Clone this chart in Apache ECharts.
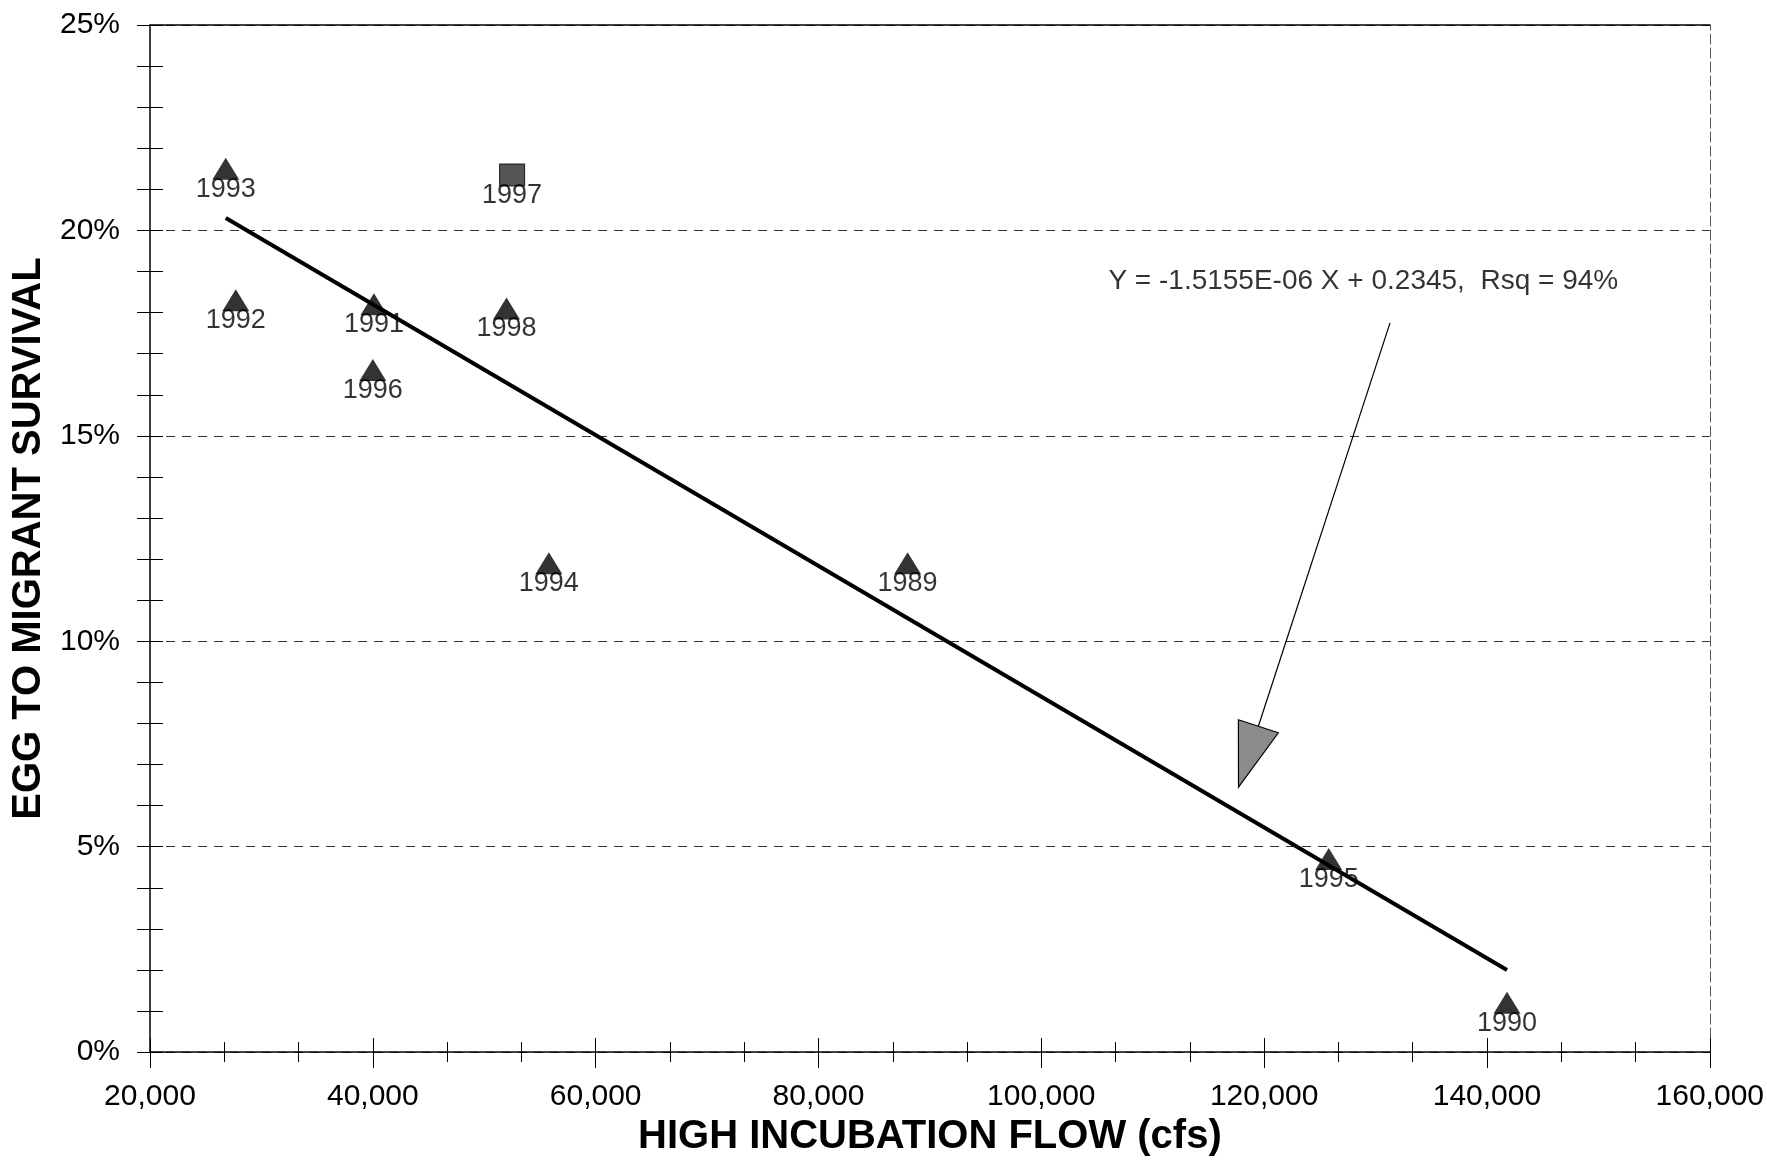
<!DOCTYPE html>
<html>
<head>
<meta charset="utf-8">
<script src="https://cdn.jsdelivr.net/npm/echarts@6/dist/echarts.min.js"></script>
<style>
html,body{margin:0;padding:0;background:#fff;}
#chart{width:1767px;height:1162px;}
</style>
</head>
<body>
<div id="chart"></div>
<script>
// ---- data ----
const years = ['1993', '1992', '1991', '1996', '1998', '1994', '1989', '1995', '1990'];
const flows = [26800, 27700, 40100, 40000, 52000, 55800, 88000, 125800, 141800];
const survival = [21.5, 18.3, 18.2, 16.6, 18.1, 11.9, 11.9, 4.7, 1.2];

const squareYears = ['1997'];
const squareFlows = [52500];
const squareSurvival = [21.35];

const trendX = [26800, 141800];
const trendY = [20.3, 2.0];

const equationText = 'Y = -1.5155E-06 X + 0.2345,  Rsq = 94%';
const equationPos = [128900, 18.76];
const arrowFrom = [131300, 17.75];
const arrowTo = [117700, 6.45];

const xTicks = [20000, 40000, 60000, 80000, 100000, 120000, 140000, 160000];
const yTicks = [0, 5, 10, 15, 20, 25];

const xName = 'HIGH INCUBATION FLOW (cfs)';
const yName = 'EGG TO MIGRANT SURVIVAL';

// ---- build ----
const FONT = '"Liberation Sans", Arial, sans-serif';
const tri = years.map((y, i) => ({ name: y, value: [flows[i], survival[i]] }));
const sq = squareYears.map((y, i) => ({ name: y, value: [squareFlows[i], squareSurvival[i]] }));
const trend = trendX.map((x, i) => [x, trendY[i]]);

const xMin = xTicks[0], xMax = xTicks[xTicks.length - 1];
const xInt = xTicks[1] - xTicks[0];
const yMin = yTicks[0], yMax = yTicks[yTicks.length - 1];
const yInt = yTicks[1] - yTicks[0];

const baseX = { type: 'value', min: xMin, max: xMax, interval: xInt };
const baseY = { type: 'value', min: yMin, max: yMax, interval: yInt };

const labelStyle = {
  show: true, position: 'bottom', distance: -4,
  formatter: p => p.name, color: '#000', fontSize: 27, fontFamily: FONT
};

const chart = echarts.init(document.getElementById('chart'), null, { renderer: 'canvas' });
chart.setOption({
  backgroundColor: '#fff',
  animation: false,
  grid: { left: 150, right: 55, top: 25, bottom: 108, containLabel: false },
  xAxis: [
    Object.assign({}, baseX, {
      position: 'bottom',
      name: xName, nameLocation: 'middle', nameGap: 64,
      nameTextStyle: { fontSize: 40, fontWeight: 'bold', color: '#000', fontFamily: FONT },
      axisLine: { show: true, onZero: false, lineStyle: { color: '#000', width: 1.5 } },
      axisTick: { show: true, length: 16, lineStyle: { color: '#000' } },
      minorTick: { show: true, splitNumber: 3, length: 10, lineStyle: { color: '#000' } },
      axisLabel: { margin: 30, fontSize: 30, color: '#000', fontFamily: FONT,
        formatter: v => Number(v).toLocaleString('en-US') },
      splitLine: { show: false }
    }),
    Object.assign({}, baseX, {
      position: 'bottom',
      axisLine: { show: false, onZero: false },
      axisTick: { show: true, inside: true, length: 14, lineStyle: { color: '#000' } },
      minorTick: { show: true, splitNumber: 3, length: 10, lineStyle: { color: '#000' } },
      axisLabel: { show: false }, splitLine: { show: false }
    }),
    Object.assign({}, baseX, {
      position: 'top',
      axisLine: { show: true, onZero: false, lineStyle: { color: '#000', width: 1.5 } },
      axisTick: { show: false }, axisLabel: { show: false }, splitLine: { show: false }
    })
  ],
  yAxis: [
    Object.assign({}, baseY, {
      position: 'left',
      name: yName, nameLocation: 'middle', nameGap: 100, nameRotate: 90,
      nameTextStyle: { fontSize: 40, fontWeight: 'bold', color: '#000', fontFamily: FONT },
      axisLine: { show: true, onZero: false, lineStyle: { color: '#000', width: 1.5 } },
      axisTick: { show: true, length: 13, lineStyle: { color: '#000' } },
      minorTick: { show: true, splitNumber: 5, length: 13, lineStyle: { color: '#000' } },
      axisLabel: { margin: 30, fontSize: 30, color: '#000', fontFamily: FONT, formatter: '{value}%' },
      splitLine: { show: true, lineStyle: { color: '#333', width: 1.2, type: [9, 7] } }
    }),
    Object.assign({}, baseY, {
      position: 'left',
      axisLine: { show: false, onZero: false },
      axisTick: { show: true, inside: true, length: 13, lineStyle: { color: '#000' } },
      minorTick: { show: true, splitNumber: 5, length: 13, lineStyle: { color: '#000' } },
      axisLabel: { show: false }, splitLine: { show: false }
    }),
    Object.assign({}, baseY, {
      position: 'right',
      axisLine: { show: true, onZero: false, lineStyle: { color: '#555', width: 1, type: [10, 4] } },
      axisTick: { show: false }, axisLabel: { show: false }, splitLine: { show: false }
    })
  ],
  series: [
    {
      type: 'line', data: trend, xAxisIndex: 0, yAxisIndex: 0,
      showSymbol: false, symbol: 'none',
      lineStyle: { color: '#000', width: 4 }, z: 3
    },
    {
      type: 'scatter', data: tri, xAxisIndex: 0, yAxisIndex: 0,
      symbol: 'triangle', symbolSize: [27, 22],
      itemStyle: { color: '#000' }, label: labelStyle, z: 4
    },
    {
      type: 'scatter', data: sq, xAxisIndex: 0, yAxisIndex: 0,
      symbol: 'rect', symbolSize: [25, 22],
      itemStyle: { color: '#2a2a2a', borderColor: '#000', borderWidth: 1 }, label: labelStyle, z: 4
    },
    {
      type: 'scatter', data: [{ name: equationText, value: equationPos }],
      xAxisIndex: 0, yAxisIndex: 0, symbolSize: 0,
      label: { show: true, position: 'inside', formatter: p => p.name, color: '#000',
        fontSize: 28, fontFamily: FONT }, z: 5
    },
    {
      type: 'custom', xAxisIndex: 0, yAxisIndex: 0, z: 5,
      data: [[arrowFrom[0], arrowFrom[1], arrowTo[0], arrowTo[1]]],
      renderItem: function (params, api) {
        const p0 = api.coord([api.value(0), api.value(1)]);
        const p1 = api.coord([api.value(2), api.value(3)]);
        const dx = p1[0] - p0[0], dy = p1[1] - p0[1];
        const len = Math.hypot(dx, dy);
        const ux = dx / len, uy = dy / len;
        const L = 64, hw = 21;
        const bx = p1[0] - ux * L, by = p1[1] - uy * L;
        const px = -uy, py = ux;
        return {
          type: 'group',
          children: [
            { type: 'line', shape: { x1: p0[0], y1: p0[1], x2: bx, y2: by },
              style: { stroke: '#000', lineWidth: 1.2 } },
            { type: 'polygon', shape: { points: [
                [p1[0], p1[1]], [bx + px * hw, by + py * hw], [bx - px * hw, by - py * hw]] },
              style: { fill: '#8c8c8c', stroke: '#000', lineWidth: 1.2 } }
          ]
        };
      }
    }
  ]
});
</script>
</body>
</html>
